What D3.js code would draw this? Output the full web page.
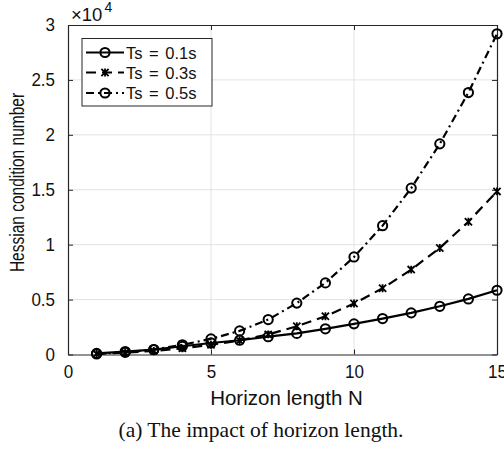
<!DOCTYPE html>
<html><head><meta charset="utf-8">
<script src="https://cdn.jsdelivr.net/npm/d3@7"></script>
<style>body{margin:0;background:#fff}svg{display:block}</style>
</head><body>
<script>
const horizon = [1,2,3,4,5,6,7,8,9,10,11,12,13,14,15];
const ts01 = [100, 270, 450, 750, 1050, 1300, 1620, 1920, 2340, 2790, 3270, 3790, 4390, 5060, 5850];
const ts03 = [60, 170, 330, 560, 880, 1280, 1830, 2570, 3480, 4640, 6030, 7730, 9700, 12090, 14850];
const ts05 = [50, 200, 450, 880, 1420, 2150, 3180, 4680, 6520, 8880, 11730, 15150, 19180, 23850, 29200];
const seriesNames = ["Ts = 0.1s", "Ts = 0.3s", "Ts = 0.5s"];
const xTicks = [0,5,10,15];
const yTicks = [0,5000,10000,15000,20000,25000,30000];
const yTickLabels = ["0","0.5","1","1.5","2","2.5","3"];

const W=504,H=449;
const svg=d3.select("body").append("svg").attr("width",W).attr("height",H);
const L=68,R=497,T=25,B=354.5;
const x=d3.scaleLinear().domain([0,15]).range([L,R]);
const y=d3.scaleLinear().domain([0,30000]).range([B,T]);
const axisCol="#262626", gridCol="#e3e3e3";
const font="Liberation Sans, Arial, Helvetica, sans-serif";

// grid
svg.append("g").selectAll("line").data(xTicks.slice(1,-1)).join("line")
  .attr("x1",d=>x(d)).attr("x2",d=>x(d)).attr("y1",T).attr("y2",B)
  .attr("stroke",gridCol).attr("stroke-width",1);
svg.append("g").selectAll("line").data(yTicks.slice(1,-1)).join("line")
  .attr("x1",L).attr("x2",R).attr("y1",d=>y(d)).attr("y2",d=>y(d))
  .attr("stroke",gridCol).attr("stroke-width",1);

const tl=5;
const xa=svg.append("g").attr("transform",`translate(0,${B})`)
  .call(d3.axisBottom(x).tickValues(xTicks).tickSizeInner(-tl).tickSizeOuter(0).tickPadding(9));
const xt=svg.append("g").attr("transform",`translate(0,${T})`)
  .call(d3.axisTop(x).tickValues(xTicks).tickSizeInner(-tl).tickSizeOuter(0).tickFormat(""));
const ya=svg.append("g").attr("transform",`translate(${L},0)`)
  .call(d3.axisLeft(y).tickValues(yTicks).tickSizeInner(-tl).tickSizeOuter(0).tickPadding(13)
    .tickFormat((d,i)=>yTickLabels[i]));
const yr=svg.append("g").attr("transform",`translate(${R},0)`)
  .call(d3.axisRight(y).tickValues(yTicks).tickSizeInner(-tl).tickSizeOuter(0).tickFormat(""));
[xa,xt,ya,yr].forEach(g=>{
  g.select(".domain").attr("stroke",axisCol).attr("stroke-width",1.2);
  g.selectAll(".tick line").attr("stroke",axisCol).attr("stroke-width",1);
  g.selectAll("text").attr("fill","#111").style("font-family",font).style("font-size","17px")
    .attr("transform","scale(1,1.1)");
});

const data=[ts01,ts03,ts05];
const dashes=[null,"10,6","8,4,2,4"];
const line=d3.line().x((d,i)=>x(horizon[i])).y(d=>y(d));

function marker(g,type,cx,cy){
  if(type==="o"){
    g.append("circle").attr("cx",cx).attr("cy",cy).attr("r",4.6)
      .attr("fill","none").attr("stroke","#000").attr("stroke-width",2);
  } else {
    const s=3.6;
    const p=`M${cx-s},${cy-s}L${cx+s},${cy+s}M${cx-s},${cy+s}L${cx+s},${cy-s}M${cx},${cy-s*1.1}L${cx},${cy+s*1.1}`;
    g.append("path").attr("d",p).attr("stroke","#000").attr("stroke-width",1.8).attr("fill","none");
  }
}
const mtypes=["o","*","o"];
[2,1,0].forEach(k=>{
  const g=svg.append("g");
  g.append("path").datum(data[k]).attr("d",line).attr("fill","none")
    .attr("stroke","#000").attr("stroke-width",2.2)
    .attr("stroke-dasharray",dashes[k]);
  data[k].forEach((v,i)=>marker(g,mtypes[k],x(horizon[i]),y(v)));
});

// exponent
const ex=svg.append("text").attr("x",71).attr("y",21).style("font-family",font).style("font-size","18.5px").attr("fill","#111");
ex.append("tspan").text("×10");
ex.append("tspan").attr("dx",2).attr("dy",-9).style("font-size","14px").text("4");

// legend
const lg=svg.append("g");
lg.append("rect").attr("x",82).attr("y",38.5).attr("width",130).attr("height",67.5)
  .attr("fill","#fff").attr("stroke",axisCol).attr("stroke-width",1);
const ly=[52.5,72.5,93];
seriesNames.forEach((n,k)=>{
  lg.append("line").attr("x1",86).attr("x2",124).attr("y1",ly[k]).attr("y2",ly[k])
    .attr("stroke","#000").attr("stroke-width",2.2).attr("stroke-dasharray",dashes[k]);
  marker(lg,mtypes[k],105,ly[k]);
  lg.append("text").attr("x",126).attr("y",ly[k]+6).text(n)
    .style("font-family",font).style("font-size","16.5px").style("word-spacing","2px").attr("fill","#111");
});

// axis labels
svg.append("text").attr("x",(L+R)/2+4).attr("y",405).attr("text-anchor","middle")
  .style("font-family",font).style("font-size","20.5px").attr("fill","#111").text("Horizon length N");
svg.append("text").attr("transform",`translate(24,182.5) rotate(-90) scale(1,1.3)`).attr("text-anchor","middle")
  .style("font-family",font).style("font-size","15.5px").attr("fill","#111").text("Hessian condition number");
// caption
svg.append("text").attr("x",261).attr("y",437).attr("text-anchor","middle")
  .style("font-family","Liberation Serif, Times New Roman, serif").style("font-size","21.5px").attr("fill","#111")
  .text("(a) The impact of horizon length.");
</script>
</body></html>
